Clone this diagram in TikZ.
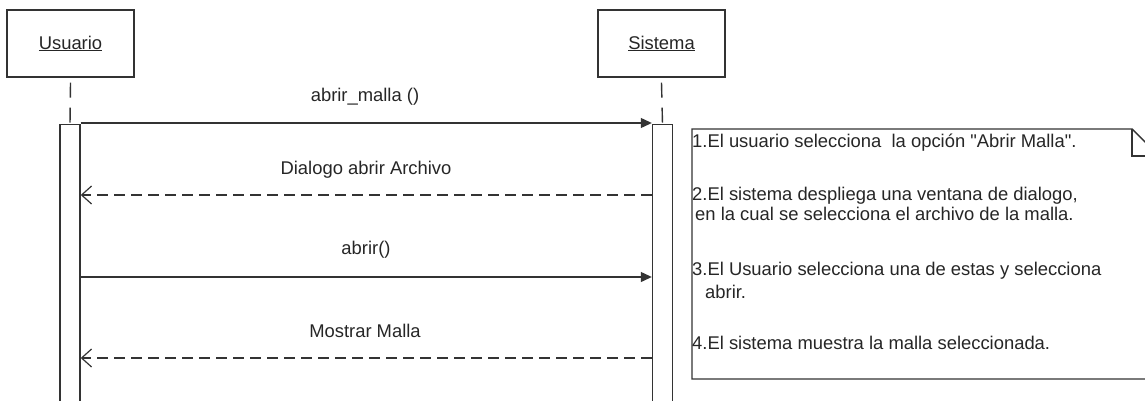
\documentclass[tikz,border=0pt]{standalone}
\usepackage{fontspec}
\setmainfont{Liberation Sans}[Ligatures=TeXOff]
\usetikzlibrary{arrows.meta}
\definecolor{ink}{HTML}{333333}
\definecolor{txt}{HTML}{262626}
\begin{document}
\begin{tikzpicture}[x=1pt,y=-1pt,
  every node/.style={font=\fontsize{18.4}{20}\selectfont, text=txt},
  actor/.style={draw=ink, line width=1.4pt, fill=white, minimum width=127pt,
    minimum height=67pt, inner sep=0pt},
  act/.style={draw=ink, line width=1.4pt, fill=white, minimum width=20pt,
    minimum height=300pt, inner sep=0pt, anchor=north},
  life/.style={draw=ink, line width=1.4pt, dash pattern=on 15pt off 10pt},
  call/.style={draw=ink, line width=1.2pt, -{Triangle[length=11pt,width=10pt]}},
  reply/.style={draw=ink, line width=1.2pt, dash pattern=on 11pt off 6pt,
    -{Straight Barb[length=10pt,width=18pt]}},
  lbl/.style={inner sep=0pt, anchor=base},
  notetxt/.style={inner sep=0pt, anchor=base west},
]
\useasboundingbox (0,0) rectangle (1145,401);
\clip (0,0) rectangle (1145,401);
\fill[white] (0,0) rectangle (1145,401);

% participants
\node[actor] (usuario) at (70.5,43.5) {\underline{Usuario}};
\node[actor] (sistema) at (661.5,43.5) {\underline{Sistema}};

% activation bars
\node[act] (actU) at (70,124) {};
\node[act] (actS) at (662.5,124) {};

% lifelines between header and activation
\draw[life] ([yshift=-5pt]usuario.south) -- (actU.north);
\draw[life] ([yshift=-5pt]sistema.south) -- (actS.north);

% message heights
\coordinate (m1) at (0,123);
\coordinate (m2) at (0,195);
\coordinate (m3) at (0,277);
\coordinate (m4) at (0,358);

\draw[call]  (actU.east |- m1) -- (actS.west |- m1);
\draw[reply] (actS.west |- m2) -- (actU.east |- m2);
\draw[call]  (actU.east |- m3) -- (actS.west |- m3);
\draw[reply] (actS.west |- m4) -- (actU.east |- m4);

\node[lbl] (l1) at (365,102) {abrir\_malla ()};
\node[lbl] (l2) at (366,174) {Dialogo abrir Archivo};
\node[lbl] (l3) at (366,254) {abrir()};
\node[lbl] (l4) at (365,337) {Mostrar Malla};

% note with folded corner
\coordinate (nA) at (692,129);
\coordinate (nB) at (1132,129);
\coordinate (nC) at (1159,156);
\coordinate (nD) at (1159,379);
\coordinate (nE) at (692,379);
\draw[ink, line width=1.4pt, fill=white] (nA) -- (nB) -- (nC) -- (nD) -- (nE) -- cycle;
\draw[ink, line width=1.4pt] (nB) -- (nB |- nC) -- (nC);

\node[notetxt] (t1) at (692,147) {1.El usuario selecciona\ \ la opción "Abrir Malla".};
\node[notetxt] (t2) at (692,200) {2.El sistema despliega una ventana de dialogo,};
\node[notetxt] (t2b) at (695,220) {en la cual se selecciona el archivo de la malla.};
\node[notetxt] (t3) at (692,275) {3.El Usuario selecciona una de estas y selecciona};
\node[notetxt] (t3b) at (705,298) {abrir.};
\node[notetxt] (t4) at (692,349) {4.El sistema muestra la malla seleccionada.};
\end{tikzpicture}
\end{document}
